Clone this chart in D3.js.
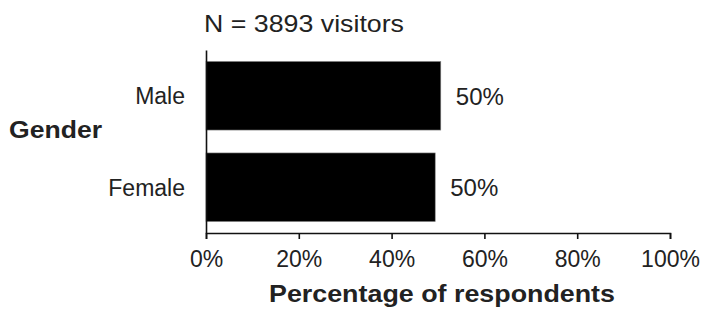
<!DOCTYPE html>
<html>
<head>
<meta charset="utf-8">
<script src="https://cdn.jsdelivr.net/npm/d3@7"></script>
<style>
  body { margin: 0; background: #fff; }
  text { font-family: "Liberation Sans", Arial, sans-serif; fill: #222; }
</style>
</head>
<body>
<div id="chart"></div>
<script>
var width = 703;
var height = 316;

// data
var categories = ["Male", "Female"];
var values = [50.6, 49.4];
var valueLabels = ["50%", "50%"];
var xTicks = [0, 20, 40, 60, 80, 100];
var titleText = "N = 3893 visitors";
var yTitle = "Gender";
var xTitle = "Percentage of respondents";

var margin = { left: 206, right: 33, top: 50, bottom: 83 };

var svg = d3.select("#chart")
  .append("svg")
  .attr("width", width)
  .attr("height", height);

var x = d3.scaleLinear()
  .domain([0, 100])
  .range([margin.left, width - margin.right]);

var y = d3.scaleBand()
  .domain(categories)
  .range([margin.top, height - margin.bottom])
  .paddingInner(0.25)
  .paddingOuter(0.125);

// bars
svg.selectAll("rect.bar")
  .data(values)
  .enter()
  .append("rect")
  .attr("class", "bar")
  .attr("x", x(0))
  .attr("y", function (d, i) { return y(categories[i]); })
  .attr("width", function (d) { return x(d) - x(0); })
  .attr("height", y.bandwidth())
  .attr("fill", "#000")
  .attr("stroke", "#888")
  .attr("stroke-width", 0.6);

// value labels
svg.selectAll("text.val")
  .data(values)
  .enter()
  .append("text")
  .attr("class", "val")
  .attr("x", function (d) { return x(d) + 15; })
  .attr("y", function (d, i) { return y(categories[i]) + y.bandwidth() / 2 + 9; })
  .style("font-size", "24px")
  .text(function (d, i) { return valueLabels[i]; });

// x axis
var xAxis = d3.axisBottom(x)
  .tickValues(xTicks)
  .tickSize(6)
  .tickFormat(function (d) { return d + "%"; });

var gx = svg.append("g")
  .attr("transform", "translate(0," + (height - margin.bottom) + ")")
  .call(xAxis);
gx.select(".domain").attr("stroke", "#111").attr("stroke-width", 1.6);
gx.selectAll(".tick line").attr("stroke", "#111").attr("stroke-width", 1.6);
gx.selectAll(".tick text")
  .attr("dy", null)
  .attr("y", 34)
  .style("font-size", "23px")
  .style("font-family", "Liberation Sans, Arial, sans-serif")
  .attr("fill", "#222");

// y axis: plain line with category names
var yAxis = d3.axisLeft(y).tickSize(0).tickPadding(21);
var gy = svg.append("g")
  .attr("transform", "translate(" + margin.left + ",0)")
  .call(yAxis);
gy.select(".domain").attr("stroke", "#111").attr("stroke-width", 1.6);
gy.selectAll(".tick text")
  .attr("dy", "0.36em")
  .style("font-size", "23px")
  .style("font-family", "Liberation Sans, Arial, sans-serif")
  .attr("fill", "#222");

// titles (the original type is a little wide, so stretch to its length)
svg.append("text")
  .attr("x", 204)
  .attr("y", 32)
  .attr("textLength", 200)
  .attr("lengthAdjust", "spacingAndGlyphs")
  .style("font-size", "24px")
  .text(titleText);

svg.append("text")
  .attr("x", 9)
  .attr("y", 138)
  .attr("textLength", 93)
  .attr("lengthAdjust", "spacingAndGlyphs")
  .style("font-size", "23px")
  .style("font-weight", "bold")
  .text(yTitle);

svg.append("text")
  .attr("x", 269)
  .attr("y", 302)
  .attr("textLength", 346)
  .attr("lengthAdjust", "spacingAndGlyphs")
  .style("font-size", "24px")
  .style("font-weight", "bold")
  .text(xTitle);
</script>
</body>
</html>
